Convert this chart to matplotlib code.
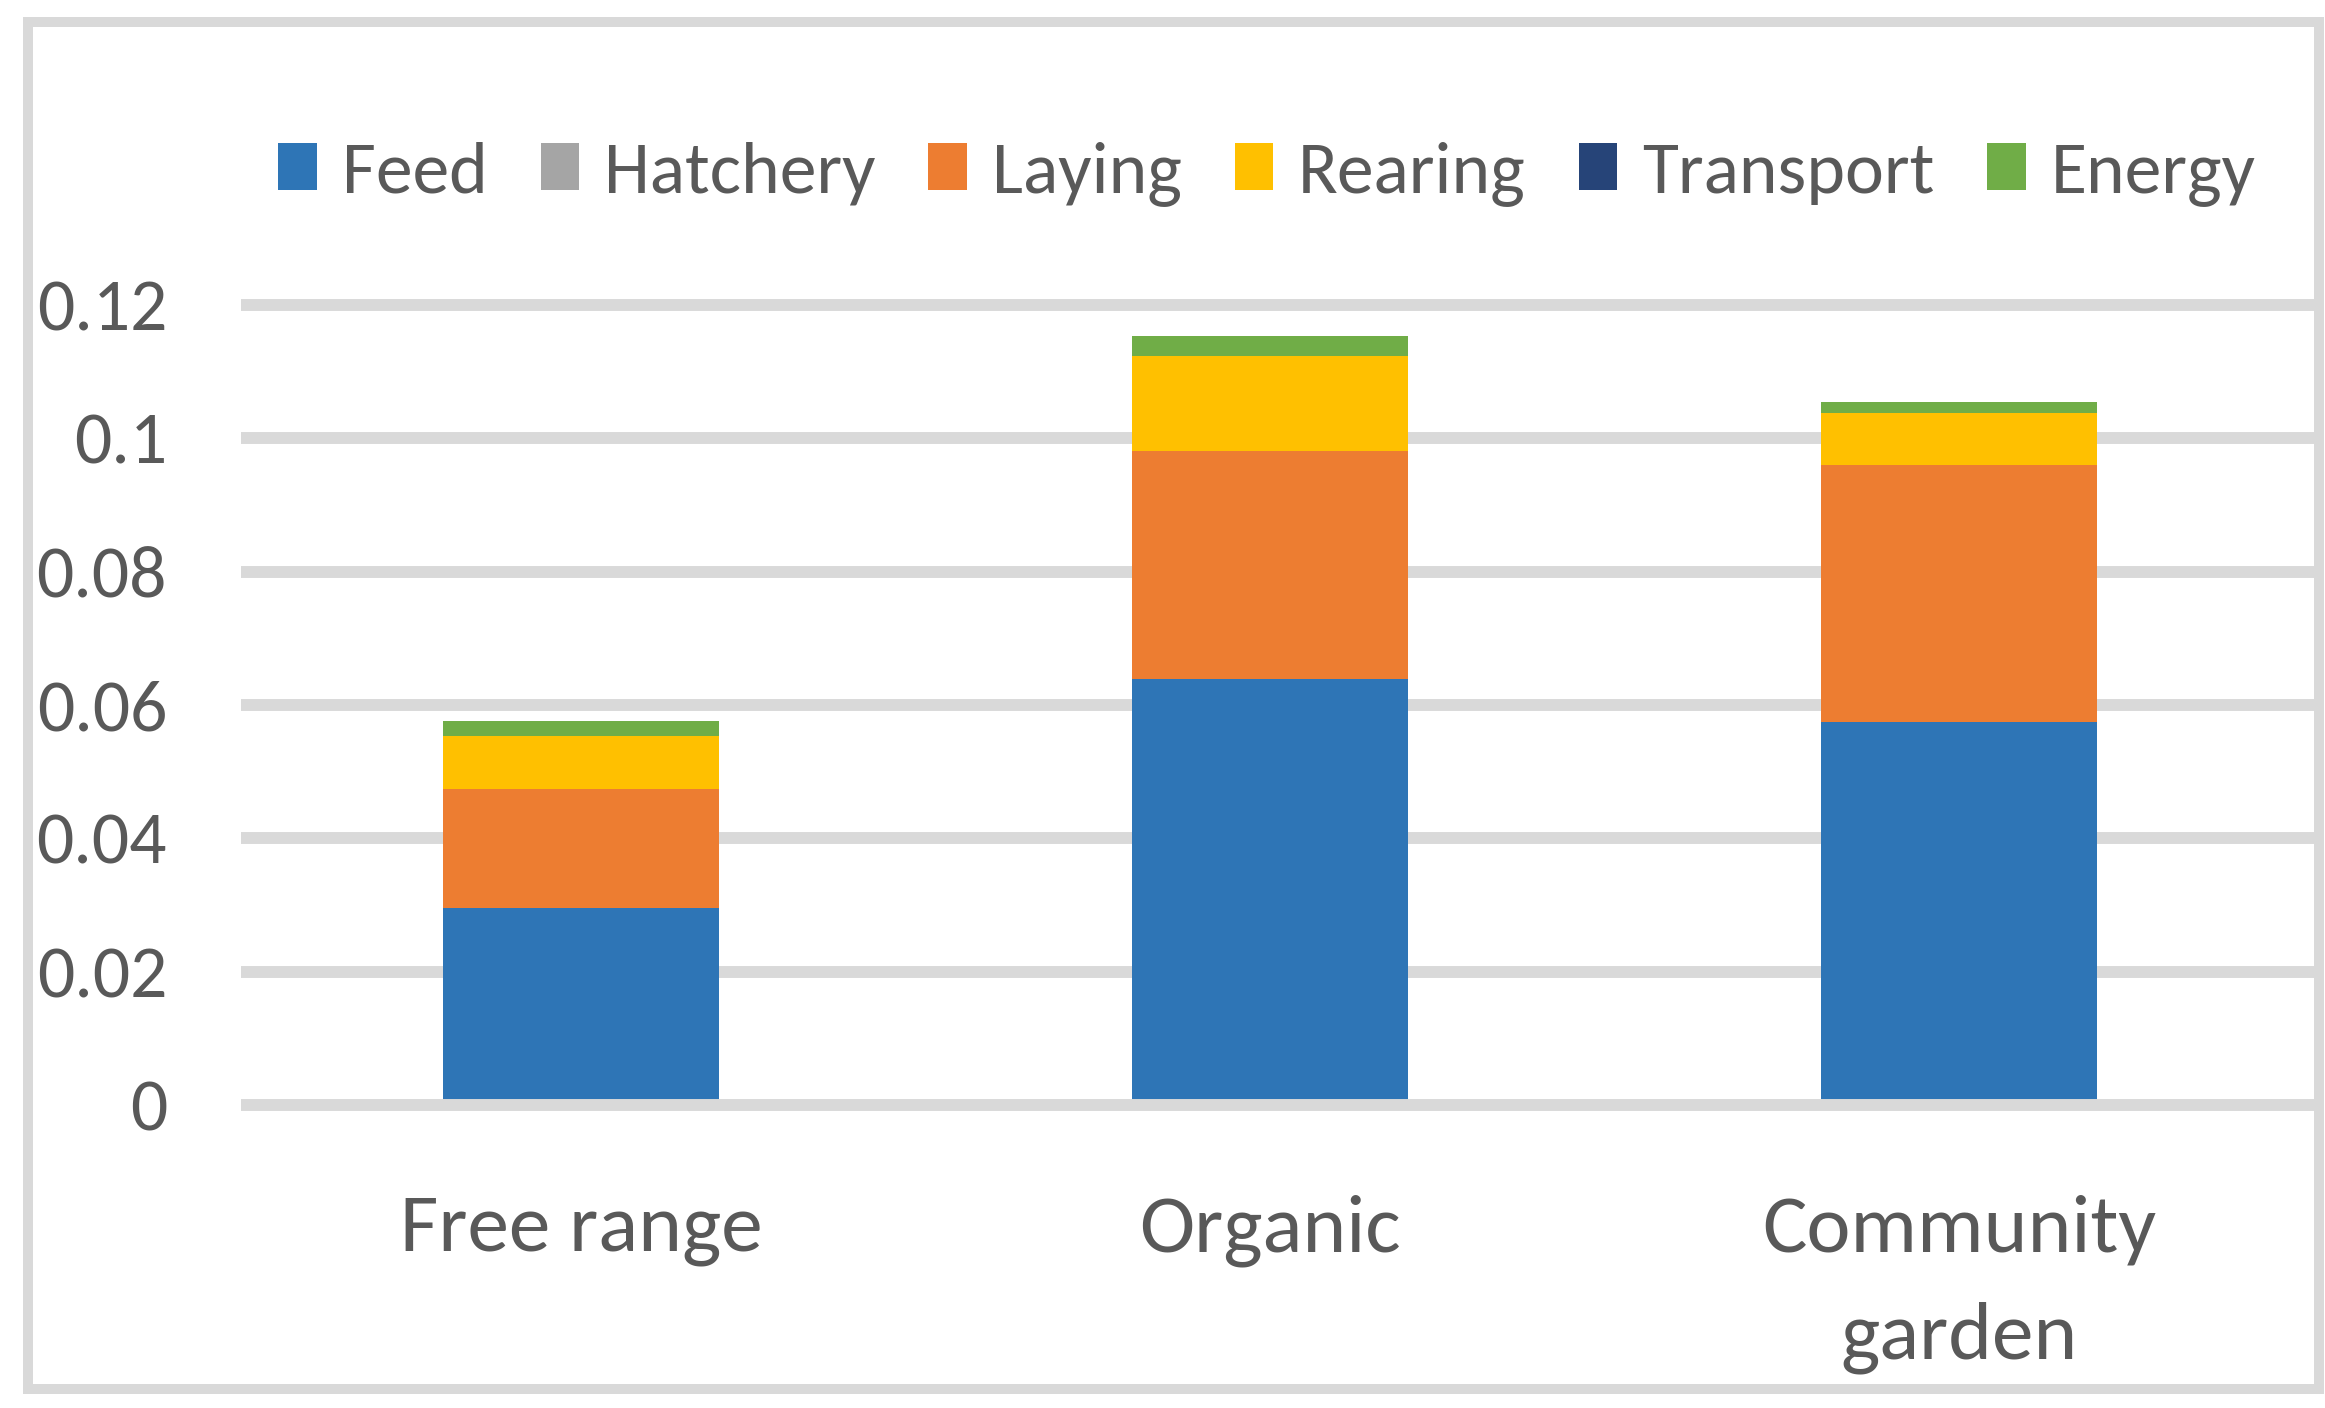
import matplotlib
matplotlib.use("Agg")
import matplotlib.pyplot as plt
from matplotlib import font_manager as fm
from matplotlib.patches import Rectangle
import numpy as np

# ---- data ----
categories = ["Free range", "Organic", "Community\ngarden"]
series_names = ["Feed", "Hatchery", "Laying", "Rearing", "Transport", "Energy"]
feed = [0.0296, 0.0639, 0.0575]
hatchery = [0.0, 0.0, 0.0]
laying = [0.0178, 0.0342, 0.0385]
rearing = [0.0080, 0.0143, 0.0078]
transport = [0.0, 0.0, 0.0]
energy = [0.0022, 0.0029, 0.0017]
y_ticks = [0, 0.02, 0.04, 0.06, 0.08, 0.10, 0.12]
y_tick_labels = ["0", "0.02", "0.04", "0.06", "0.08", "0.1", "0.12"]

colors = ["#2E75B6", "#A5A5A5", "#ED7D31", "#FFC000", "#264478", "#70AD47"]
GRID = "#D9D9D9"
TXT = "#595959"

def pick_font(names):
    for n in names:
        try:
            fm.findfont(fm.FontProperties(family=n), fallback_to_default=False)
            return n
        except Exception:
            pass
    return "DejaVu Sans"

FONT = pick_font(["Carlito", "Lato", "Open Sans"])
plt.rcParams["font.family"] = [FONT, "DejaVu Sans"]

W, H = 2325, 1408
fig = plt.figure(figsize=(W / 100, H / 100), dpi=100)
fig.patch.set_facecolor("white")

# axes placement (pixels -> figure fraction)
ax_left, ax_right = 236.5, 2303.5
grid_left, grid_right = 241, 2314
ymin, ymax = -0.002, 0.122
y_top_px, y_bot_px = 291.7, 1118.3
ax = fig.add_axes([ax_left / W, 1 - y_bot_px / H, (ax_right - ax_left) / W, (y_bot_px - y_top_px) / H])
ax.set_xlim(-0.5, len(categories) - 0.5)
ax.set_ylim(ymin, ymax)

x = np.arange(len(categories))
data = [feed, hatchery, laying, rearing, transport, energy]
bottom = np.zeros(len(categories))
handles = []
for name, vals, c in zip(series_names, data, colors):
    b = ax.bar(x, vals, width=0.40, bottom=bottom, color=c, label=name, zorder=2, linewidth=0)
    handles.append(b)
    bottom = bottom + np.array(vals)

# gridlines
span = ax_right - ax_left
for t in y_ticks:
    ax.axhline(t, xmin=(grid_left - ax_left) / span, xmax=(grid_right - ax_left) / span,
               color=GRID, lw=8.6, zorder=3 if t == 0 else 1, solid_capstyle="butt",
               clip_on=False)

for s in ax.spines.values():
    s.set_visible(False)

ax.set_yticks(y_ticks)
ax.set_yticklabels(y_tick_labels)
ax.set_xticks(x)
ax.set_xticklabels(categories)
ax.tick_params(axis="y", length=0, pad=50, labelsize=53, labelcolor=TXT)
ax.tick_params(axis="x", length=0, pad=55, labelsize=60, labelcolor=TXT)
for lbl in ax.get_xticklabels():
    lbl.set_linespacing(1.62)
    lbl.set_verticalalignment("top")

leg = fig.legend(handles=handles, labels=series_names, loc="center", ncol=6,
                 bbox_to_anchor=(1267 / W, 1 - 174 / H), frameon=False,
                 fontsize=53, handlelength=0.52, handleheight=0.6,
                 handletextpad=0.34, columnspacing=0.72, borderaxespad=0)
for t in leg.get_texts():
    t.set_color(TXT)

# outer chart border
fig.add_artist(Rectangle((28 / W, 1 - 1388.5 / H), (2319 - 28) / W, (1388.5 - 21.5) / H,
                         transform=fig.transFigure, fill=False, ec=GRID, lw=7.2))

fig.savefig("out.png", dpi=100, facecolor="white")
